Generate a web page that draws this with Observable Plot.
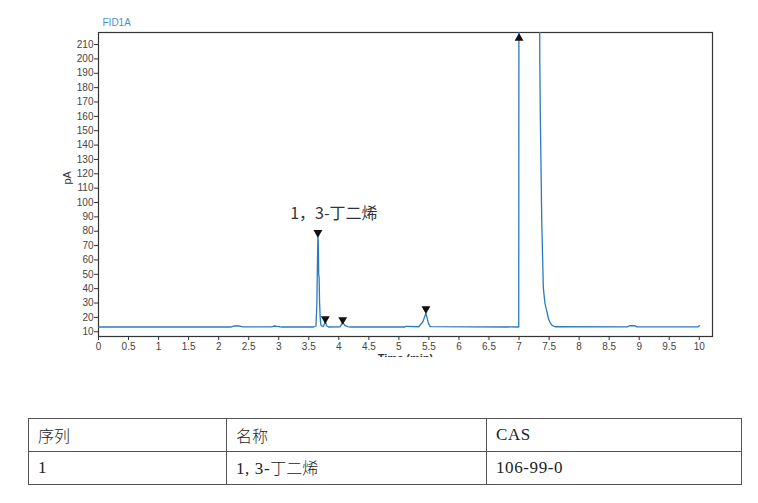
<!DOCTYPE html>
<html><head><meta charset="utf-8">
<script src="https://cdn.jsdelivr.net/npm/d3@7"></script>
<script src="https://cdn.jsdelivr.net/npm/@observablehq/plot@0.6"></script>
<style>
body{margin:0;background:#fff;width:758px;height:503px;overflow:hidden;font-family:"Liberation Sans",Arial,sans-serif;}
#chart svg{display:block;}
table{position:absolute;left:28px;top:418px;width:713px;table-layout:fixed;border-collapse:collapse;font-family:"Liberation Serif","Noto Sans CJK SC",serif;font-size:17px;letter-spacing:0.6px;color:#222;}
td{border:1.4px solid #555;height:32px;padding:0 0 0 9px;vertical-align:middle;line-height:18px;}
.cjk{font-family:"Noto Sans CJK SC",sans-serif;font-weight:300;font-size:16px;letter-spacing:0;}
</style></head>
<body>
<div id="chart"></div>
<table>
<colgroup><col style="width:198px"><col style="width:260px"><col style="width:255px"></colgroup>
<tr><td class="cjk">序列</td><td class="cjk">名称</td><td>CAS</td></tr>
<tr><td>1</td><td>1, 3-<span class="cjk">丁二烯</span></td><td>106-99-0</td></tr>
</table>
<script>
const time   = [0, 0.6, 1.65, 2.2, 2.25, 2.35, 2.4, 2.88, 2.92, 3.0, 3.05, 3.58, 3.62, 3.635, 3.645, 3.652, 3.66, 3.665, 3.672, 3.68, 3.69, 3.70, 3.72, 3.745, 3.775, 3.80, 3.83, 4.02, 4.065, 4.1, 4.15, 4.2, 5.1, 5.12, 5.33, 5.40, 5.45, 5.49, 5.52, 6.995, 7.0, 7.333, 7.345, 7.355, 7.378, 7.404, 7.43, 7.461, 7.49, 7.516, 7.55, 7.6, 8.8, 8.85, 8.93, 8.96, 9.98, 10.0];
const signal = [13.3, 13.3, 13.3, 13.3, 14.0, 14.0, 13.4, 13.4, 14.0, 13.6, 13.3, 13.3, 14.0, 30, 60, 77, 70, 50, 48, 30, 20, 15, 14, 13.8, 17, 14, 13.3, 13.4, 16.5, 14.5, 13.6, 13.3, 13.3, 13.8, 13.5, 17, 23, 16, 13.6, 13.3, 400, 400, 200, 157, 87, 40.7, 30, 24.6, 19, 16.5, 14.5, 13.5, 13.4, 14.2, 14.2, 13.4, 13.4, 14.2];
const markerTime  = [3.652, 3.775, 4.065, 5.45];
const markerValue = [79, 19, 18.4, 26];
const offscaleTime  = [7.0];
const offscaleValue = [214.5];
const yTicks = d3.range(10, 211, 10);
const xTicks = d3.range(0, 10.001, 0.5);
const peakLabel = "1，3-丁二烯";

const trace = time.map((t, i) => ({t, v: signal[i]}));
const marks = markerTime.map((t, i) => ({t, v: markerValue[i]}));
const offs = offscaleTime.map((t, i) => ({t, v: offscaleValue[i]}));

const plot = Plot.plot({
  width: 758, height: 357,
  marginLeft: 98, marginRight: 46, marginTop: 32, marginBottom: 21,
  style: {fontFamily: "Liberation Sans, Arial, sans-serif", fontSize: "10px", color: "#333"},
  x: {domain: [0, 10.22], label: null},
  y: {domain: [6.7, 218.4], label: null},
  marks: [
    Plot.axisY({ticks: yTicks, tickSize: 4, tickPadding: 1, label: null, fontSize: 10, fill: "#444"}),
    Plot.axisX({ticks: xTicks, tickSize: 4, tickPadding: 2, tickFormat: d => String(d), label: null, fontSize: 10, fill: "#444"}),
    Plot.frame({stroke: "#333", strokeWidth: 1.2}),
    Plot.lineY(trace, {x: "t", y: "v", stroke: "#2b7bba", strokeWidth: 1.3, clip: true}),
    Plot.dot(marks, {x: "t", y: "v", symbol: "triangle", rotate: 180, r: 3.3, fill: "#111", stroke: null}),
    Plot.dot(offs, {x: "t", y: "v", symbol: "triangle", r: 3.3, fill: "#111", stroke: null}),
    Plot.text([peakLabel], {x: 3.19, y: 92, text: d => d, textAnchor: "start", fontSize: 16, fill: "#333", fontFamily: "Noto Sans CJK SC"}),
    Plot.text(["FID1A"], {frameAnchor: "top-left", dx: 4, dy: -14, text: d => d, fontSize: 10, fill: "#4a90c8"}),
    Plot.text(["pA"], {frameAnchor: "left", dx: -31, dy: 0, rotate: -90, text: d => d, fontSize: 11, fill: "#333"}),
    Plot.text(["Time (min)"], {frameAnchor: "bottom", dy: 18, lineAnchor: "top", text: d => d, fontSize: 11, fontWeight: "bold", fill: "#333"})
  ]
});
document.getElementById("chart").appendChild(plot);
</script>
</body></html>
